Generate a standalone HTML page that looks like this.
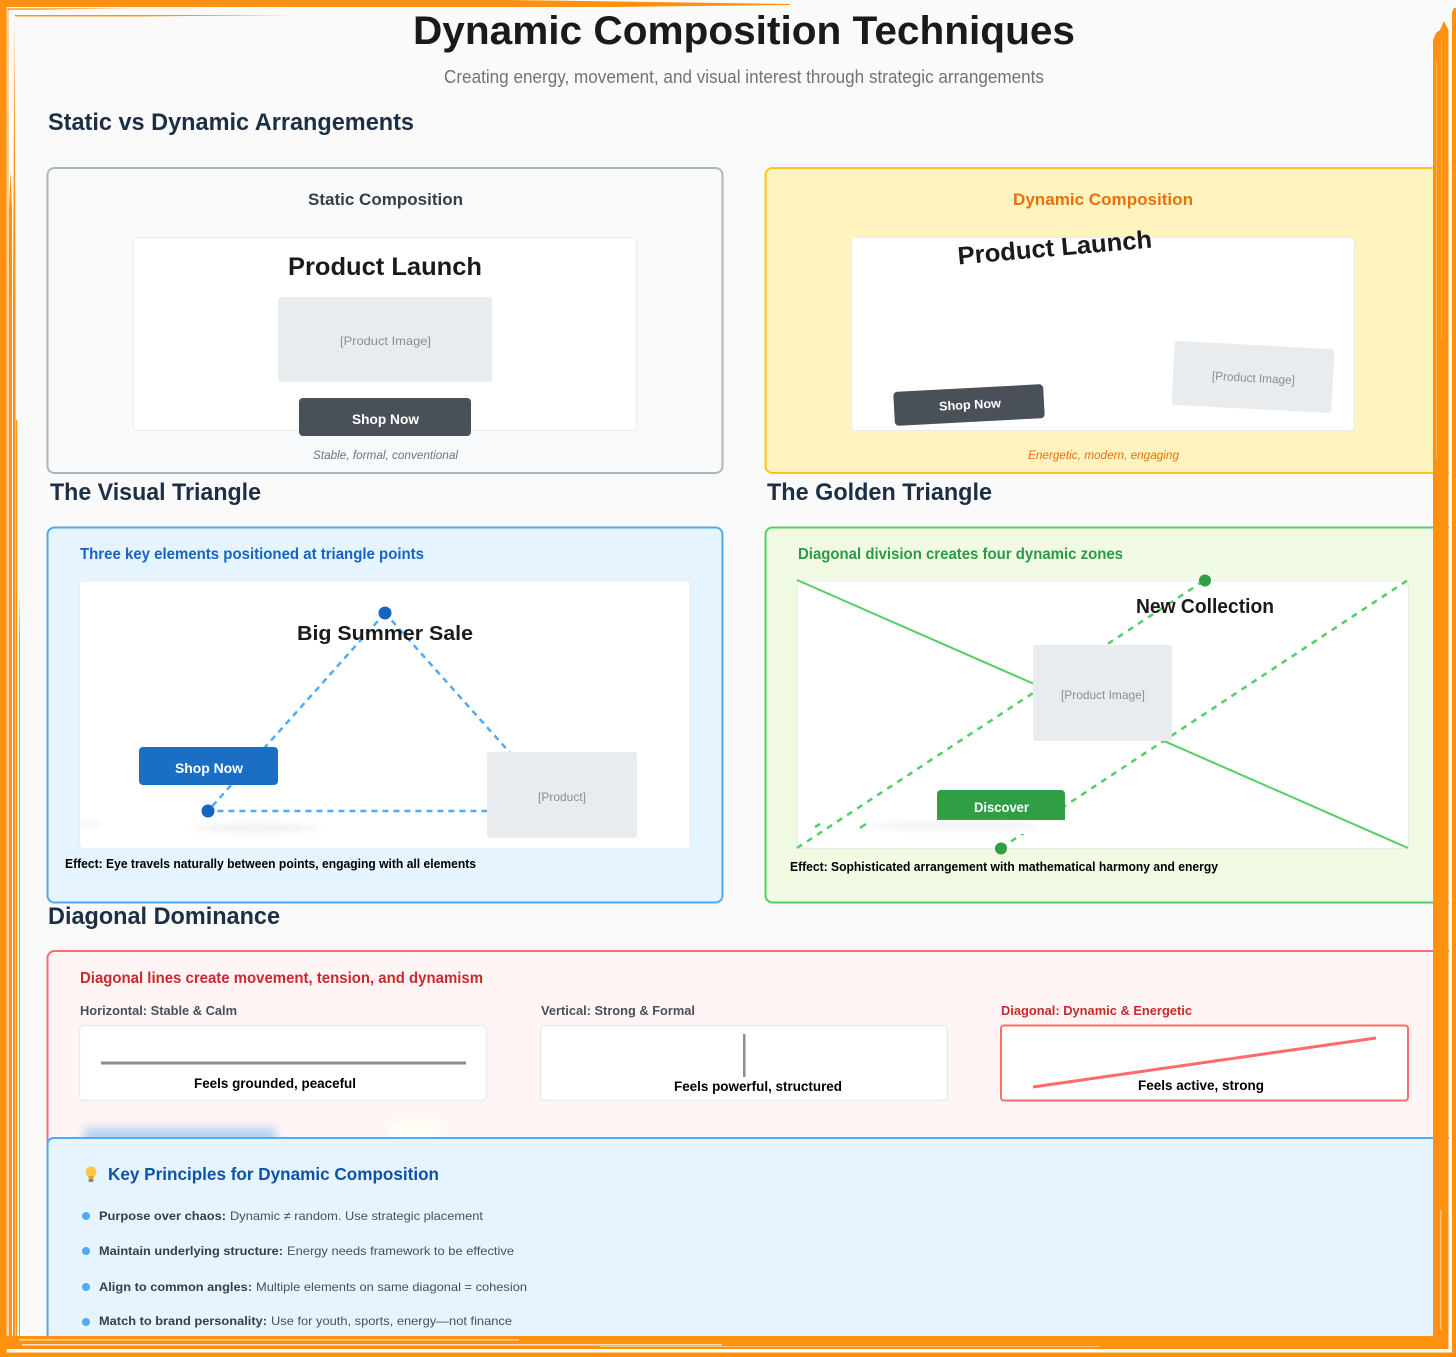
<!DOCTYPE html>
<html><head><meta charset="utf-8"><title>Dynamic Composition Techniques</title>
<style>
html,body{margin:0;padding:0;background:#fafafa}
svg{display:block}
text{font-family:"Liberation Sans",sans-serif;white-space:pre}
.b{font-weight:bold}
</style></head><body>
<svg xmlns="http://www.w3.org/2000/svg" width="1456" height="1357" viewBox="0 0 1456 1357">
<defs>
<filter id="blur3" x="-30%" y="-100%" width="160%" height="300%"><feGaussianBlur stdDeviation="3"/></filter>
<filter id="blur5" x="-30%" y="-100%" width="160%" height="300%"><feGaussianBlur stdDeviation="5"/></filter>
</defs>
<rect width="1456" height="1357" fill="#fafafa"/>

<!-- Headings -->
<text x="413" y="44" font-size="40" class="b" fill="#1a1a1a" textLength="662" lengthAdjust="spacingAndGlyphs">Dynamic Composition Techniques</text>
<text x="444" y="83" font-size="18" fill="#6c757d" textLength="600" lengthAdjust="spacingAndGlyphs">Creating energy, movement, and visual interest through strategic arrangements</text>
<text x="48" y="130" font-size="24" class="b" fill="#1c2f45" textLength="366" lengthAdjust="spacingAndGlyphs">Static vs Dynamic Arrangements</text>

<!-- Static card -->
<rect x="47.5" y="168" width="675" height="305" rx="7" fill="#f8f9fa" stroke="#adb5bd" stroke-width="2"/>
<text x="308" y="205" font-size="17" class="b" fill="#343f4c" textLength="155" lengthAdjust="spacingAndGlyphs">Static Composition</text>
<rect x="133.5" y="237.5" width="503" height="193" rx="4" fill="#fff" stroke="#e9ecef"/>
<text x="288" y="275" font-size="25" class="b" fill="#1a1a1a" textLength="194" lengthAdjust="spacingAndGlyphs">Product Launch</text>
<rect x="278" y="297" width="214" height="85" rx="3" fill="#e9ecef"/>
<text x="340" y="345" font-size="12" fill="#868e96" textLength="91" lengthAdjust="spacingAndGlyphs">[Product Image]</text>
<rect x="299" y="398" width="172" height="38" rx="4" fill="#495057"/>
<text x="352" y="424" font-size="13.5" class="b" fill="#fff" textLength="67" lengthAdjust="spacingAndGlyphs">Shop Now</text>
<text x="313" y="459" font-size="12" font-style="italic" fill="#6c757d" textLength="145" lengthAdjust="spacingAndGlyphs">Stable, formal, conventional</text>

<!-- Dynamic card -->
<rect x="765.5" y="168" width="760" height="305" rx="7" fill="#fff3bf" stroke="#fcc419" stroke-width="2"/>
<text x="1013" y="205" font-size="17" class="b" fill="#e8710a" textLength="180" lengthAdjust="spacingAndGlyphs">Dynamic Composition</text>
<rect x="851.5" y="237.5" width="503" height="193" rx="4" fill="#fff" stroke="#e9ecef"/>
<text transform="rotate(-5 1055 256)" x="958" y="256" font-size="25" class="b" fill="#1a1a1a" textLength="195" lengthAdjust="spacingAndGlyphs">Product Launch</text>
<g transform="rotate(3 1253 377)">
<rect x="1173" y="345" width="160" height="64" rx="3" fill="#e9ecef"/>
<text x="1212" y="382" font-size="12" fill="#868e96" textLength="83" lengthAdjust="spacingAndGlyphs">[Product Image]</text>
</g>
<g transform="rotate(-3 969 405)">
<rect x="894" y="388" width="150" height="34" rx="4" fill="#495057"/>
<text x="939" y="409" font-size="12.5" class="b" fill="#fff" textLength="62" lengthAdjust="spacingAndGlyphs">Shop Now</text>
</g>
<text x="1028" y="459" font-size="12" font-style="italic" fill="#e8710a" textLength="151" lengthAdjust="spacingAndGlyphs">Energetic, modern, engaging</text>

<text x="50" y="500" font-size="24" class="b" fill="#1c2f45" textLength="211" lengthAdjust="spacingAndGlyphs">The Visual Triangle</text>
<text x="767" y="500" font-size="24" class="b" fill="#1c2f45" textLength="225" lengthAdjust="spacingAndGlyphs">The Golden Triangle</text>

<!-- Visual triangle card -->
<rect x="47.5" y="527.5" width="675" height="375" rx="7" fill="#e5f4fe" stroke="#4dabf7" stroke-width="2"/>
<text x="80" y="559" font-size="16" class="b" fill="#1565c0" textLength="344" lengthAdjust="spacingAndGlyphs">Three key elements positioned at triangle points</text>
<rect x="79.5" y="581" width="611" height="267.5" rx="4" fill="#fff" stroke="#e9ecef"/>
<path d="M385 613L208 811L562 811Z" fill="none" stroke="#4dabf7" stroke-width="2.5" stroke-dasharray="6 5"/>
<rect x="139" y="747" width="139" height="38" rx="4" fill="#1a6fc4"/>
<text x="175" y="773" font-size="14" class="b" fill="#fff" textLength="68" lengthAdjust="spacingAndGlyphs">Shop Now</text>
<rect x="487" y="752" width="150" height="86" rx="3" fill="#e9ecef"/>
<text x="538" y="801" font-size="12" fill="#868e96" textLength="48" lengthAdjust="spacingAndGlyphs">[Product]</text>
<text x="297" y="640" font-size="20" class="b" fill="#1a1a1a" textLength="176" lengthAdjust="spacingAndGlyphs">Big Summer Sale</text>
<circle cx="385" cy="613" r="6.5" fill="#1565c0"/>
<circle cx="208" cy="811" r="6.5" fill="#1565c0"/>
<ellipse cx="256" cy="828" rx="64" ry="5" fill="#ddd" opacity=".35" filter="url(#blur3)"/>
<ellipse cx="90" cy="824" rx="12" ry="3" fill="#ddd" opacity=".35" filter="url(#blur3)"/>
<text x="65" y="868" font-size="12.5" class="b" fill="#000" textLength="411" lengthAdjust="spacingAndGlyphs">Effect: Eye travels naturally between points, engaging with all elements</text>

<!-- Golden triangle card -->
<rect x="765.5" y="527.5" width="760" height="375" rx="7" fill="#f1fbe3" stroke="#51cf66" stroke-width="2"/>
<text x="798" y="559" font-size="16" class="b" fill="#2b9a45" textLength="325" lengthAdjust="spacingAndGlyphs">Diagonal division creates four dynamic zones</text>
<rect x="797.5" y="581" width="611" height="267.5" rx="3" fill="#fff" stroke="#e9ecef"/>
<path d="M797 580L1408 848" stroke="#51cf66" stroke-width="2" fill="none"/>
<path d="M797 848L1205 580M1001 848L1408 580" stroke="#51cf66" stroke-width="2.5" fill="none" stroke-dasharray="6 6"/>
<rect x="1033" y="645" width="139" height="96" rx="3" fill="#e9ecef"/>
<text x="1061" y="699" font-size="12" fill="#868e96" textLength="84" lengthAdjust="spacingAndGlyphs">[Product Image]</text>
<rect x="937" y="790" width="128" height="34" rx="4" fill="#2f9e44"/>
<text x="974" y="812" font-size="13.5" class="b" fill="#fff" textLength="55" lengthAdjust="spacingAndGlyphs">Discover</text>
<rect x="865" y="820" width="225" height="14" fill="#fff"/>
<path d="M815 827L820 824M860 828L866 824" stroke="#51cf66" stroke-width="2.5" fill="none"/>
<ellipse cx="955" cy="826" rx="85" ry="4" fill="#ddd" opacity=".4" filter="url(#blur3)"/>
<text x="1136" y="613" font-size="20" class="b" fill="#1a1a1a" textLength="138" lengthAdjust="spacingAndGlyphs">New Collection</text>
<circle cx="1205" cy="580.5" r="6" fill="#2f9e44"/>
<circle cx="1001" cy="848.5" r="6" fill="#2f9e44"/>
<text x="790" y="871" font-size="12.5" class="b" fill="#000" textLength="428" lengthAdjust="spacingAndGlyphs">Effect: Sophisticated arrangement with mathematical harmony and energy</text>

<text x="48" y="924" font-size="24" class="b" fill="#1c2f45" textLength="232" lengthAdjust="spacingAndGlyphs">Diagonal Dominance</text>

<!-- Diagonal card -->
<rect x="47.5" y="951" width="1478" height="300" rx="7" fill="#fff5f5" stroke="#ff6b6b" stroke-width="2"/>
<text x="80" y="983" font-size="16" class="b" fill="#c92a2a" textLength="403" lengthAdjust="spacingAndGlyphs">Diagonal lines create movement, tension, and dynamism</text>
<text x="80" y="1015" font-size="13" class="b" fill="#495057" textLength="157" lengthAdjust="spacingAndGlyphs">Horizontal: Stable &amp; Calm</text>
<text x="541" y="1015" font-size="13" class="b" fill="#495057" textLength="154" lengthAdjust="spacingAndGlyphs">Vertical: Strong &amp; Formal</text>
<text x="1001" y="1015" font-size="13" class="b" fill="#c92a2a" textLength="191" lengthAdjust="spacingAndGlyphs">Diagonal: Dynamic &amp; Energetic</text>
<rect x="79.5" y="1025.5" width="407" height="75" rx="4" fill="#fff" stroke="#e9ecef" stroke-width="1.5"/>
<rect x="101" y="1061.5" width="365" height="3" fill="#868e96"/>
<text x="194" y="1088" font-size="13.5" class="b" fill="#000" textLength="162" lengthAdjust="spacingAndGlyphs">Feels grounded, peaceful</text>
<rect x="540.5" y="1025.5" width="407" height="75" rx="4" fill="#fff" stroke="#e9ecef" stroke-width="1.5"/>
<rect x="743" y="1034" width="2.5" height="43" fill="#868e96"/>
<text x="674" y="1091" font-size="13.5" class="b" fill="#000" textLength="168" lengthAdjust="spacingAndGlyphs">Feels powerful, structured</text>
<rect x="1001" y="1025.5" width="407" height="75" rx="3" fill="#fff" stroke="#ff6b6b" stroke-width="2"/>
<path d="M1033 1087L1376 1038" stroke="#ff6b6b" stroke-width="3" fill="none"/>
<text x="1138" y="1090" font-size="13.5" class="b" fill="#000" textLength="126" lengthAdjust="spacingAndGlyphs">Feels active, strong</text>
<rect x="84" y="1128" width="192" height="22" fill="#b4d0ef" filter="url(#blur5)"/>
<rect x="391" y="1122" width="48" height="24" fill="#fffff6" filter="url(#blur5)"/>

<!-- Principles card -->
<rect x="47.5" y="1138" width="1478" height="202" rx="6" fill="#e5f4fe" stroke="#4dabf7" stroke-width="2"/>
<circle cx="91" cy="1172" r="5.5" fill="#ffc83d"/>
<path d="M88 1176L94 1176L93 1179L89 1179Z" fill="#f0a020"/>
<rect x="88.5" y="1179" width="5" height="3" rx="1" fill="#8d7d90"/>
<text x="108" y="1180" font-size="17.5" class="b" fill="#0f52a8" textLength="331" lengthAdjust="spacingAndGlyphs">Key Principles for Dynamic Composition</text>

<circle cx="86" cy="1216" r="4" fill="#4dabf7"/>
<text x="99" y="1220" font-size="12" class="b" fill="#343f4c" textLength="127" lengthAdjust="spacingAndGlyphs">Purpose over chaos:</text>
<text x="230" y="1220" font-size="12" fill="#495057" textLength="253" lengthAdjust="spacingAndGlyphs">Dynamic ≠ random. Use strategic placement</text>
<circle cx="86" cy="1251" r="4" fill="#4dabf7"/>
<text x="99" y="1255" font-size="12" class="b" fill="#343f4c" textLength="184" lengthAdjust="spacingAndGlyphs">Maintain underlying structure:</text>
<text x="287" y="1255" font-size="12" fill="#495057" textLength="227" lengthAdjust="spacingAndGlyphs">Energy needs framework to be effective</text>
<circle cx="86" cy="1287" r="4" fill="#4dabf7"/>
<text x="99" y="1291" font-size="12" class="b" fill="#343f4c" textLength="153" lengthAdjust="spacingAndGlyphs">Align to common angles:</text>
<text x="256" y="1291" font-size="12" fill="#495057" textLength="271" lengthAdjust="spacingAndGlyphs">Multiple elements on same diagonal = cohesion</text>
<circle cx="86" cy="1322" r="4" fill="#4dabf7"/>
<text x="99" y="1325" font-size="12" class="b" fill="#343f4c" textLength="168" lengthAdjust="spacingAndGlyphs">Match to brand personality:</text>
<text x="271" y="1325" font-size="12" fill="#495057" textLength="241" lengthAdjust="spacingAndGlyphs">Use for youth, sports, energy—not finance</text>

<!-- Painted frame -->
<rect x="1449" y="0" width="7" height="1357" fill="#fafafa"/>
<g fill="#ff9110">
<path d="M0 0L510 0L790 4L790 5L610 7L0 7Z"/>
<rect x="0" y="0" width="6.5" height="1357"/>
<rect x="6.5" y="8" width="2.5" height="1345" opacity=".4"/>
<path d="M9 1350L9 210L10.5 170L12 210L12 1350Z"/>
<path d="M13 1350L13 300L14.5 16L15.5 300L15.5 1350Z"/>
<rect x="16" y="420" width="1.2" height="925"/>
<path d="M19 1340L19 640L19.5 590L20 640L20 1340Z"/>
<path d="M15 15L300 15L135 16.500L15 16.500Z"/>
<path d="M8 8L130 8L40 10L8 10Z" opacity=".7"/>
<path d="M1433 1340L1433 40L1436 33L1440 30L1444 21L1448.500 30L1448.500 1349L0 1349L0 1336L1433 1336Z"/>
<path d="M1452 1357L1452 12L1454 8L1456 8L1456 1357Z"/>
<rect x="0" y="1352.500" width="1456" height="4.500"/>
</g>
<g fill="#fff">
<rect x="19" y="1339" width="500" height="1.500" opacity=".6"/>
<rect x="22" y="1344" width="700" height="1.500" opacity=".7"/>
<rect x="600" y="1346" width="500" height="1" opacity=".4"/>
<rect x="1440" y="1210" width="1.500" height="120" opacity=".4"/>
<rect x="1436" y="60" width="1" height="400" opacity=".25"/>
<rect x="1441" y="40" width="1" height="300" opacity=".25"/>
<rect x="1448.500" y="1336" width="3.500" height="16.500"/>
<rect x="7" y="1349" width="1445" height="3.500"/>
</g>
</svg>
</body></html>
